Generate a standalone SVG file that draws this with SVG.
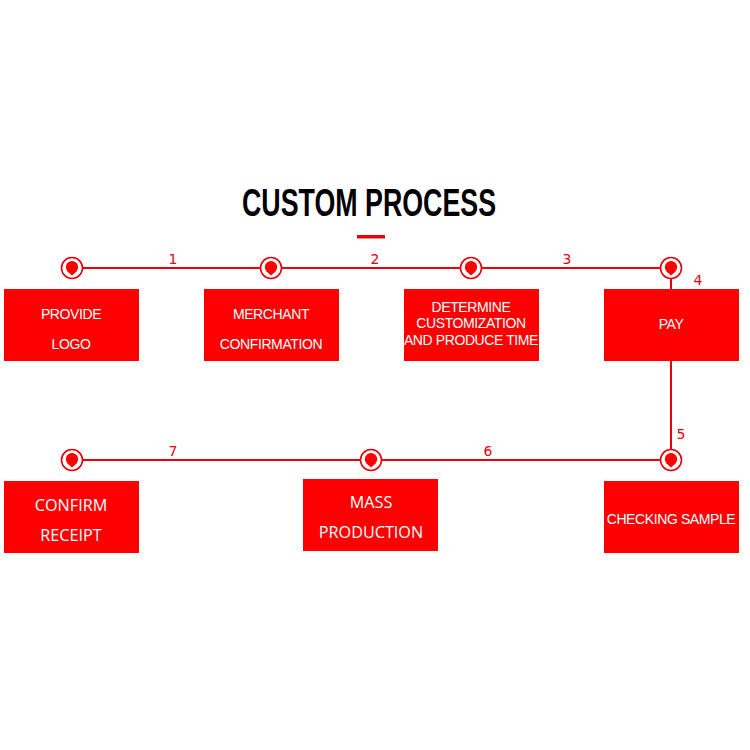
<svg xmlns="http://www.w3.org/2000/svg" width="750" height="750" viewBox="0 0 750 750">
<defs>
<style>
.box{fill:#fe0000}
.t{font-family:"Liberation Sans",Arial,sans-serif;font-size:14px;fill:#fff;text-anchor:middle;letter-spacing:-0.4px}
.t2{font-family:"Open Sans","Liberation Sans",sans-serif;font-size:16.2px;fill:#fff;text-anchor:middle}
.num{font-family:"DejaVu Sans","Liberation Sans",sans-serif;font-size:14px;fill:#e8000b;text-anchor:middle}
.ln{stroke:#e8000b;stroke-width:2;fill:none}
</style>
<g id="pin">
<circle r="10.5" fill="#fff" stroke="#e8000b" stroke-width="1.6"/>
<path d="M0,7.5 L-4.5,3.5 A6.2,6.2 0 1 1 4.5,3.5 Z" fill="#fe0000"/>
</g>
</defs>
<rect width="750" height="750" fill="#fff"/>
<text x="369" y="216" font-family="'Liberation Sans',Arial,sans-serif" font-weight="bold" font-size="38" text-anchor="middle" textLength="254" lengthAdjust="spacingAndGlyphs" fill="#000">CUSTOM PROCESS</text>
<rect x="357" y="235" width="28" height="3.5" fill="#e8000b"/>
<g id="connectors">
<path class="ln" d="M72,268 H671 V460 H72"/>
<text class="num" x="173" y="264">1</text>
<text class="num" x="375" y="264">2</text>
<text class="num" x="567" y="264">3</text>
<text class="num" x="698" y="285">4</text>
<text class="num" x="681" y="439">5</text>
<text class="num" x="488" y="456">6</text>
<text class="num" x="173" y="456">7</text>
</g>
<g id="markers">
<use href="#pin" x="72" y="268"/>
<use href="#pin" x="271" y="268"/>
<use href="#pin" x="471" y="268"/>
<use href="#pin" x="671" y="268"/>
<use href="#pin" x="72" y="460"/>
<use href="#pin" x="371" y="460"/>
<use href="#pin" x="671" y="460"/>
</g>
<g id="n1"><rect class="box" x="4" y="289" width="135" height="72"/><text class="t" x="71" y="319">PROVIDE</text><text class="t" x="71" y="349">LOGO</text></g>
<g id="n2"><rect class="box" x="204" y="289" width="135" height="72"/><text class="t" x="271" y="319">MERCHANT</text><text class="t" x="271" y="349">CONFIRMATION</text></g>
<g id="n3"><rect class="box" x="404" y="289" width="135" height="72"/><text class="t" x="471" y="312">DETERMINE</text><text class="t" x="471" y="328">CUSTOMIZATION</text><text class="t" x="471" y="345">AND PRODUCE TIME</text></g>
<g id="n4"><rect class="box" x="604" y="289" width="135" height="72"/><text class="t" x="671" y="329">PAY</text></g>
<g id="n5"><rect class="box" x="604" y="481" width="135" height="72"/><text class="t" x="671" y="524">CHECKING SAMPLE</text></g>
<g id="n6"><rect class="box" x="303" y="479" width="135" height="72"/><text class="t2" x="371" y="508">MASS</text><text class="t2" x="371" y="538">PRODUCTION</text></g>
<g id="n7"><rect class="box" x="4" y="481" width="135" height="72"/><text class="t2" x="71" y="511">CONFIRM</text><text class="t2" x="71" y="541">RECEIPT</text></g>
</svg>
